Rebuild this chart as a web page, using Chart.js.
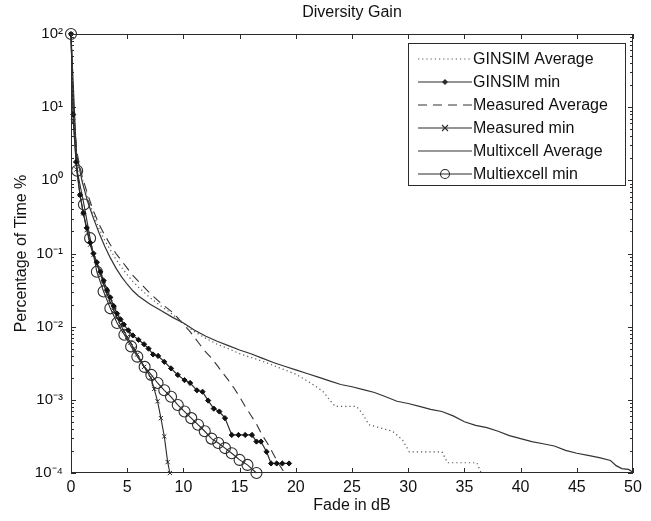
<!DOCTYPE html>
<html>
<head>
<meta charset="utf-8">
<title>Diversity Gain</title>
<script src="https://cdn.jsdelivr.net/npm/chart.js@4.4.1/dist/chart.umd.min.js"></script>
<style>
  body { margin: 0; background: #fff; }
  canvas { display: block; }
</style>
</head>
<body>
<canvas id="chart" width="651" height="521"></canvas>
<script>
// values (percentage of time vs fade depth)
const ginsimAvgX = [0, 0.2, 0.5, 1, 1.5, 2, 2.5, 3, 3.5, 4, 4.5, 5, 5.5, 6, 6.5, 7, 7.5, 8, 8.5, 9, 9.5, 10, 11, 12, 13, 14, 15, 16, 17, 18, 19, 20, 21, 22, 22.5, 23, 23.5, 25.4, 25.9, 26.5, 28.6, 29.5, 30.1, 33, 33.5, 36.1, 36.5];
const ginsimAvgY = [100, 10, 2.34, 1.05, 0.562, 0.339, 0.219, 0.151, 0.112, 0.0832, 0.0646, 0.0513, 0.0417, 0.0347, 0.0295, 0.0251, 0.0219, 0.0191, 0.017, 0.0148, 0.0129, 0.0112, 0.00851, 0.00692, 0.00575, 0.00501, 0.00427, 0.0038, 0.00339, 0.00295, 0.00257, 0.00224, 0.00182, 0.00145, 0.00126, 0.001, 0.000813, 0.000813, 0.000661, 0.000457, 0.000372, 0.000282, 0.000195, 0.000195, 0.000138, 0.000138, 0.0001];

const ginsimMinX = [0, 0.2, 0.45, 0.8, 1.1, 1.4, 1.7, 2.0, 2.3, 2.6, 2.9, 3.2, 3.5, 3.8, 4.1, 4.4, 4.7, 5.1, 5.5, 6.0, 6.5, 6.9, 7.3, 7.75, 8.3, 8.9, 9.5, 10.1, 10.6, 11.2, 11.7, 12.2, 12.7, 13.2, 13.7, 14.3, 14.9, 15.5, 16.1, 16.5, 16.9, 17.4, 17.8, 18.3, 18.8, 19.4];
const ginsimMinY = [100, 7.94, 1.78, 0.631, 0.355, 0.224, 0.141, 0.1, 0.0759, 0.0562, 0.0427, 0.0316, 0.0251, 0.0191, 0.0151, 0.0126, 0.0107, 0.00891, 0.00759, 0.00661, 0.00575, 0.00501, 0.00417, 0.00398, 0.00331, 0.00269, 0.00219, 0.00186, 0.0017, 0.00135, 0.00129, 0.000977, 0.000759, 0.000692, 0.000562, 0.000331, 0.000331, 0.000331, 0.000331, 0.000269, 0.000269, 0.000195, 0.000135, 0.000135, 0.000135, 0.000135];

const measAvgX = [0, 0.2, 0.5, 1, 1.5, 2, 2.5, 3, 3.5, 4, 4.5, 5, 5.5, 6, 6.5, 7, 7.5, 8, 8.5, 9, 9.5, 10, 10.5, 11, 11.5, 12, 12.5, 13, 13.5, 14, 14.5, 15, 15.5, 16, 16.5, 17, 17.5, 18, 18.5, 19];
const measAvgY = [100, 10, 2.51, 1.12, 0.631, 0.38, 0.251, 0.178, 0.132, 0.1, 0.0794, 0.0631, 0.0501, 0.0417, 0.0347, 0.0288, 0.0245, 0.0209, 0.0182, 0.0158, 0.0132, 0.0107, 0.00891, 0.00708, 0.00562, 0.00447, 0.00372, 0.00295, 0.00234, 0.00186, 0.00145, 0.0011, 0.000813, 0.000617, 0.000468, 0.000331, 0.000251, 0.000182, 0.000132, 0.0001];

const measMinX = [0, 0.2, 0.5, 0.8, 1.1, 1.4, 1.7, 2.0, 2.3, 2.6, 2.9, 3.2, 3.5, 3.8, 4.1, 4.4, 4.7, 5.0, 5.3, 5.6, 5.9, 6.2, 6.5, 6.8, 7.1, 7.4, 7.7, 8.0, 8.3, 8.6, 8.8];
const measMinY = [100, 6.31, 1.41, 0.631, 0.355, 0.209, 0.132, 0.0955, 0.0708, 0.0537, 0.038, 0.0282, 0.0214, 0.0166, 0.0132, 0.0107, 0.00871, 0.00724, 0.00603, 0.00501, 0.00417, 0.00347, 0.00282, 0.0024, 0.002, 0.00141, 0.000955, 0.000562, 0.000316, 0.000141, 0.0001];

const multiAvgX = [0, 0.2, 0.5, 1, 1.5, 2, 2.5, 3, 3.5, 4, 4.5, 5, 5.5, 6, 7, 8, 9, 10, 11, 12, 13, 14, 15, 16, 17, 18, 19, 20, 21, 22, 23, 24, 25, 26, 27, 28, 29, 30, 31, 32, 33, 34, 35, 36, 37, 38, 39, 40, 41, 42, 43, 44, 45, 46, 47, 48, 48.5, 49, 49.6, 50];
const multiAvgY = [100, 10, 2.24, 0.955, 0.501, 0.302, 0.191, 0.126, 0.0871, 0.0631, 0.0479, 0.038, 0.0309, 0.0263, 0.0204, 0.0166, 0.0135, 0.0112, 0.00891, 0.00741, 0.00631, 0.0055, 0.00479, 0.00427, 0.00372, 0.00324, 0.00288, 0.00257, 0.00229, 0.00204, 0.00182, 0.00162, 0.00151, 0.00138, 0.00126, 0.0011, 0.000955, 0.000891, 0.000813, 0.000741, 0.000692, 0.000603, 0.000501, 0.000447, 0.000417, 0.000372, 0.000324, 0.000295, 0.000269, 0.000251, 0.000234, 0.000204, 0.000186, 0.000174, 0.000162, 0.000148, 0.000126, 0.000115, 0.000112, 0.000102];

const multiMinX = [0, 0.55, 1.15, 1.7, 2.3, 2.9, 3.5, 4.1, 4.75, 5.35, 5.9, 6.55, 7.15, 7.7, 8.3, 8.9, 9.5, 10.1, 10.7, 11.3, 11.9, 12.5, 13.1, 13.7, 14.3, 15.0, 15.7, 16.5];
const multiMinY = [100, 1.35, 0.468, 0.162, 0.0562, 0.0302, 0.0178, 0.0112, 0.00776, 0.00537, 0.00389, 0.00282, 0.00219, 0.0017, 0.00135, 0.0011, 0.000851, 0.000692, 0.000562, 0.000457, 0.000372, 0.000295, 0.000257, 0.000219, 0.000186, 0.000151, 0.000129, 0.0001];

const seriesNames = ["GINSIM Average", "GINSIM min", "Measured Average", "Measured min", "Multixcell Average", "Multiexcell min"];
const xTicks = [0, 5, 10, 15, 20, 25, 30, 35, 40, 45, 50];
const yTickValues = [0.0001, 0.001, 0.01, 0.1, 1, 10, 100];
const yTickLabels = ["10⁻⁴", "10⁻³", "10⁻²", "10⁻¹", "10⁰", "10¹", "10²"];

const FONT = "'Liberation Sans', Arial, sans-serif";
const INK = "#2b2b2b";

function toPoints(xs, ys) {
  return xs.map((x, i) => ({ x: x, y: ys[i] }));
}

function drawMarker(ctx, style, x, y, r) {
  ctx.beginPath();
  if (style === "circle") {
    ctx.arc(x, y, r, 0, Math.PI * 2);
    ctx.stroke();
  } else if (style === "rectRot") {
    ctx.moveTo(x, y - r);
    ctx.lineTo(x + r, y);
    ctx.lineTo(x, y + r);
    ctx.lineTo(x - r, y);
    ctx.closePath();
    ctx.fill();
  } else if (style === "crossRot") {
    ctx.moveTo(x - r, y - r);
    ctx.lineTo(x + r, y + r);
    ctx.moveTo(x + r, y - r);
    ctx.lineTo(x - r, y + r);
    ctx.stroke();
  }
}

// frame, inward ticks, title and legend (matlab look)
const matlabFrame = {
  id: "matlabFrame",
  afterDraw(chart) {
    const ctx = chart.ctx;
    const area = chart.chartArea;
    const xs = chart.scales.x;
    const ys = chart.scales.y;
    ctx.save();
    ctx.strokeStyle = INK;
    ctx.fillStyle = INK;
    ctx.lineWidth = 1;

    ctx.strokeRect(area.left + 0.5, area.top + 0.5, area.right - area.left - 1, area.bottom - area.top - 1);

    ctx.beginPath();
    xTicks.forEach(v => {
      const px = Math.round(xs.getPixelForValue(v)) + 0.5;
      ctx.moveTo(px, area.bottom);
      ctx.lineTo(px, area.bottom - 5);
      ctx.moveTo(px, area.top);
      ctx.lineTo(px, area.top + 5);
    });
    for (let e = -4; e < 2; e++) {
      for (let m = 1; m < 10; m++) {
        const py = Math.round(ys.getPixelForValue(m * Math.pow(10, e))) + 0.5;
        const len = m === 1 ? 5 : 3;
        ctx.moveTo(area.left, py);
        ctx.lineTo(area.left + len, py);
        ctx.moveTo(area.right, py);
        ctx.lineTo(area.right - len, py);
      }
    }
    ctx.stroke();

    // title
    ctx.font = "16px " + FONT;
    ctx.textAlign = "center";
    ctx.textBaseline = "middle";
    ctx.fillStyle = "#111";
    ctx.fillText("Diversity Gain", (area.left + area.right) / 2, 13);

    // legend
    const boxW = 217, boxH = 142;
    const bx = area.right - 8 - boxW;
    const by = area.top + 9;
    ctx.fillStyle = "#fff";
    ctx.fillRect(bx, by, boxW, boxH);
    ctx.strokeStyle = INK;
    ctx.strokeRect(bx + 0.5, by + 0.5, boxW, boxH);
    ctx.textAlign = "left";
    chart.data.datasets.forEach((ds, i) => {
      const ly = by + 16 + i * 23;
      ctx.save();
      ctx.strokeStyle = ds.borderColor;
      ctx.lineWidth = ds.borderWidth;
      ctx.setLineDash(ds.borderDash || []);
      ctx.beginPath();
      ctx.moveTo(bx + 10, ly);
      ctx.lineTo(bx + 64, ly);
      ctx.stroke();
      ctx.setLineDash([]);
      ctx.fillStyle = INK;
      ctx.strokeStyle = INK;
      if (ds.pointRadius > 0) {
        drawMarker(ctx, ds.pointStyle, bx + 37, ly, ds.pointStyle === "circle" ? 4.5 : 3);
      }
      ctx.restore();
      ctx.fillStyle = "#111";
      ctx.fillText(ds.label, bx + 65, ly + 1);
    });
    ctx.restore();
  }
};

new Chart(document.getElementById("chart"), {
  type: "line",
  data: {
    datasets: [
      {
        label: seriesNames[0],
        data: toPoints(ginsimAvgX, ginsimAvgY),
        borderColor: "#555",
        borderWidth: 1.2,
        borderDash: [1.2, 3],
        pointRadius: 0
      },
      {
        label: seriesNames[1],
        data: toPoints(ginsimMinX, ginsimMinY),
        borderColor: INK,
        borderWidth: 1.2,
        pointStyle: "rectRot",
        pointRadius: 2.6,
        pointBackgroundColor: "#111",
        pointBorderColor: "#111",
        pointBorderWidth: 1
      },
      {
        label: seriesNames[2],
        data: toPoints(measAvgX, measAvgY),
        borderColor: "#333",
        borderWidth: 1.1,
        borderDash: [9, 6],
        pointRadius: 0
      },
      {
        label: seriesNames[3],
        data: toPoints(measMinX, measMinY),
        borderColor: INK,
        borderWidth: 1.1,
        pointStyle: "crossRot",
        pointRadius: 3,
        pointBorderColor: INK,
        pointBorderWidth: 1
      },
      {
        label: seriesNames[4],
        data: toPoints(multiAvgX, multiAvgY),
        borderColor: "#333",
        borderWidth: 1.2,
        pointRadius: 0
      },
      {
        label: seriesNames[5],
        data: toPoints(multiMinX, multiMinY),
        borderColor: INK,
        borderWidth: 1.1,
        pointStyle: "circle",
        pointRadius: 5.5,
        pointBackgroundColor: "rgba(0,0,0,0)",
        pointBorderColor: INK,
        pointBorderWidth: 1.1
      }
    ]
  },
  options: {
    responsive: false,
    animation: false,
    clip: false,
    elements: { line: { tension: 0 } },
    layout: { padding: { top: 34, right: 18, left: 0, bottom: 0 } },
    plugins: {
      legend: { display: false },
      title: { display: false },
      tooltip: { enabled: false }
    },
    scales: {
      x: {
        type: "linear",
        min: 0,
        max: 50,
        afterFit: s => { s.height = 48; },
        afterBuildTicks: s => { s.ticks = xTicks.map(v => ({ value: v })); },
        grid: { display: false, drawTicks: false },
        border: { display: false },
        ticks: { color: "#111", padding: 5, font: { family: FONT, size: 16 }, maxRotation: 0 },
        title: { display: true, text: "Fade in dB", color: "#111", font: { family: FONT, size: 16 }, padding: { top: 0, bottom: 6 } }
      },
      y: {
        type: "logarithmic",
        min: 0.0001,
        max: 100,
        afterFit: s => { s.width = 71; },
        afterBuildTicks: s => { s.ticks = yTickValues.map(v => ({ value: v })); },
        grid: { display: false, drawTicks: false },
        border: { display: false },
        ticks: {
          color: "#111",
          padding: 8,
          autoSkip: false,
          font: { family: FONT, size: 15 },
          callback: v => {
            const i = yTickValues.indexOf(v);
            return i >= 0 ? yTickLabels[i] : "";
          }
        },
        title: { display: true, text: "Percentage of Time %", color: "#111", font: { family: FONT, size: 16 }, padding: { top: 12, bottom: 0 } }
      }
    }
  },
  plugins: [matlabFrame]
});
</script>
</body>
</html>
